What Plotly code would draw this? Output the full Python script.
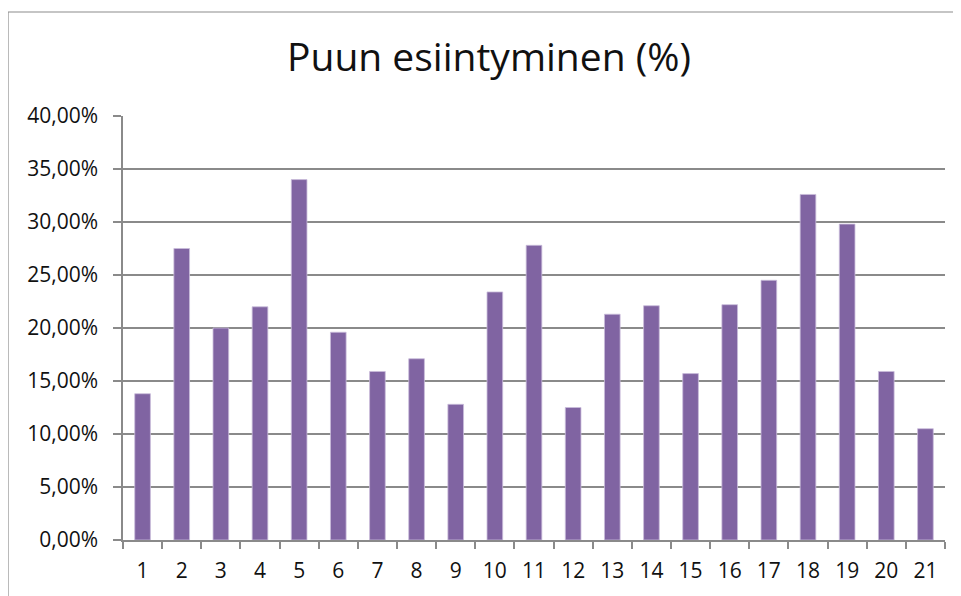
import plotly.graph_objects as go

categories = [str(i) for i in range(1, 22)]
values = [0.138, 0.275, 0.200, 0.220, 0.340, 0.196, 0.159, 0.171, 0.128, 0.234, 0.278,
          0.125, 0.213, 0.221, 0.157, 0.222, 0.245, 0.326, 0.298, 0.159, 0.105]
title_text = "Puun esiintyminen (%)"

W, H = 961, 596
OFF = 8  # page body margin offset
L, T = 123 - OFF, 116 - OFF
R = W - (945 - OFF)
B = H - (540 - OFF)
pw, ph = W - L - R, H - T - B

fig = go.Figure(go.Bar(
    x=categories, y=values,
    marker=dict(color="#8064A2", line=dict(color="#C9BDDB", width=0.8)),
    width=0.4,
))

# chart border (top-left portion visible)
bx0 = (8 - OFF - L) / pw
by1 = 1 + (T - (12 - OFF)) / ph
fig.add_shape(type="rect", xref="paper", yref="paper",
              x0=bx0, x1=1.2, y0=-0.5, y1=by1,
              line=dict(color="#8C8C8C", width=1.2), fillcolor="rgba(0,0,0,0)", layer="below")

fig.update_layout(
    width=W, height=H,
    margin=dict(l=L, r=R, t=T, b=B),
    paper_bgcolor="white", plot_bgcolor="white",
    separators=", ",
    showlegend=False,
    font=dict(family="Open Sans", size=21, color="#111111"),
    title=dict(text=title_text, x=(489 - OFF) / W, xanchor="center", xref="container",
               y=1 - (57 - OFF) / H, yanchor="middle", yref="container",
               font=dict(family="Open Sans", size=39, color="#111111")),
    xaxis=dict(
        type="category", tickson="boundaries", ticks="outside", ticklen=7,
        tickcolor="#8A8A8A", tickwidth=1.5,
        showline=True, linecolor="#8A8A8A", linewidth=1.5,
        showgrid=False, ticklabelstandoff=11,
        tickfont=dict(size=21),
    ),
    yaxis=dict(
        range=[0, 0.4], dtick=0.05, tickformat=".2%",
        ticks="outside", ticklen=8, tickcolor="#8A8A8A", tickwidth=1.5,
        showline=True, linecolor="#8A8A8A", linewidth=1.5,
        showgrid=True, gridcolor="#8A8A8A", gridwidth=1.5,
        zeroline=False, ticklabelstandoff=11,
        tickfont=dict(size=21),
    ),
)

fig.write_html("out.html")
